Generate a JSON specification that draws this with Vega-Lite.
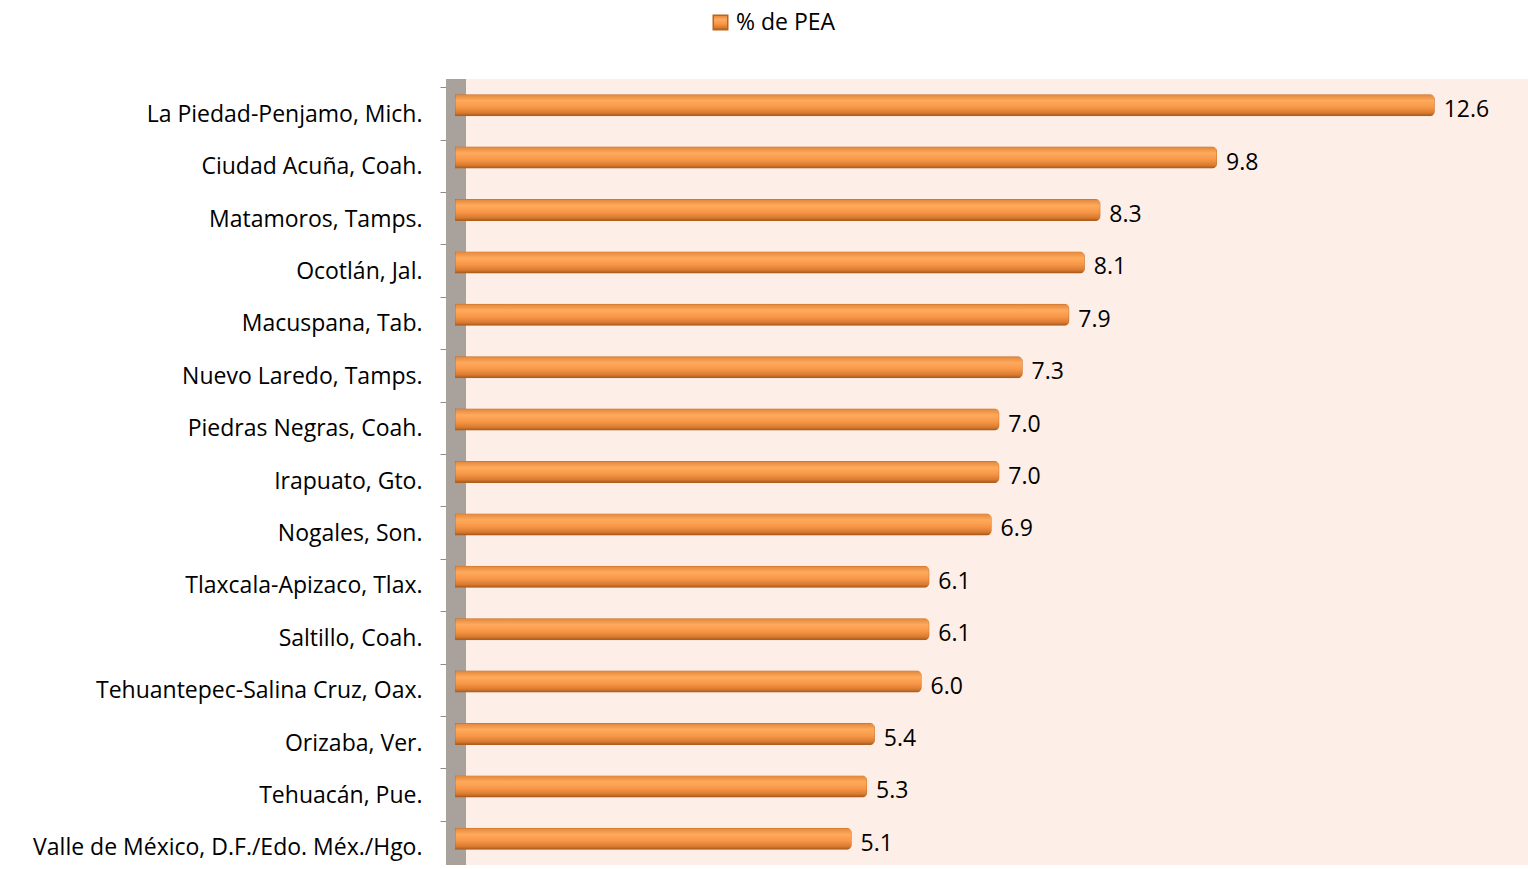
{
  "$schema": "https://vega.github.io/schema/vega-lite/v6.json",
  "width": 1073,
  "height": 786,
  "autosize": {"type": "none"},
  "padding": {"left": 455, "top": 79, "right": 0, "bottom": 4},
  "background": "white",
  "config": {
    "view": {"fill": "#FDEEE8", "stroke": null},
    "font": "Open Sans"
  },
  "data": {
    "values": [
      {"ciudad": "La Piedad-Penjamo, Mich.", "valor": 12.6, "serie": "% de PEA"},
      {"ciudad": "Ciudad Acuña, Coah.", "valor": 9.8, "serie": "% de PEA"},
      {"ciudad": "Matamoros, Tamps.", "valor": 8.3, "serie": "% de PEA"},
      {"ciudad": "Ocotlán, Jal.", "valor": 8.1, "serie": "% de PEA"},
      {"ciudad": "Macuspana, Tab.", "valor": 7.9, "serie": "% de PEA"},
      {"ciudad": "Nuevo Laredo, Tamps.", "valor": 7.3, "serie": "% de PEA"},
      {"ciudad": "Piedras Negras, Coah.", "valor": 7.0, "serie": "% de PEA"},
      {"ciudad": "Irapuato, Gto.", "valor": 7.0, "serie": "% de PEA"},
      {"ciudad": "Nogales, Son.", "valor": 6.9, "serie": "% de PEA"},
      {"ciudad": "Tlaxcala-Apizaco, Tlax.", "valor": 6.1, "serie": "% de PEA"},
      {"ciudad": "Saltillo, Coah.", "valor": 6.1, "serie": "% de PEA"},
      {"ciudad": "Tehuantepec-Salina Cruz, Oax.", "valor": 6.0, "serie": "% de PEA"},
      {"ciudad": "Orizaba, Ver.", "valor": 5.4, "serie": "% de PEA"},
      {"ciudad": "Tehuacán, Pue.", "valor": 5.3, "serie": "% de PEA"},
      {"ciudad": "Valle de México, D.F./Edo. Méx./Hgo.", "valor": 5.1, "serie": "% de PEA"}
    ]
  },
  "layer": [
    {
      "mark": {"type": "rule", "color": "#A8A19C", "strokeWidth": 19, "xOffset": 1},
      "encoding": {"x": {"datum": 0, "scale": {"domain": [0, 13.8]}, "axis": null}}
    },
    {
      "mark": {
        "type": "bar",
        "size": 22,
        "cornerRadiusEnd": 5,
        "strokeWidth": 0.8,
        "fill": {
          "gradient": "linear",
          "x1": 0, "y1": 0, "x2": 0, "y2": 1,
          "stops": [
            {"offset": 0, "color": "#E0853A"},
            {"offset": 0.3, "color": "#FFAA5C"},
            {"offset": 0.6, "color": "#F79646"},
            {"offset": 0.85, "color": "#D97A30"},
            {"offset": 1, "color": "#9E551C"}
          ]
        }
      },
      "encoding": {
        "y": {
          "field": "ciudad",
          "type": "nominal",
          "sort": null,
          "scale": {"paddingInner": 0, "paddingOuter": 0},
          "axis": {
            "title": null,
            "domain": false,
            "offset": 8,
            "tickSize": 7,
            "tickColor": "#8C8C8C",
            "tickOffset": -18,
            "labelOffset": 27,
            "labelPadding": 18,
            "labelFontSize": 23,
            "labelColor": "#000000",
            "labelFont": "Open Sans",
            "labelLimit": 500
          }
        },
        "x": {"field": "valor", "type": "quantitative", "scale": {"domain": [0, 13.8]}, "axis": null},
        "stroke": {
          "field": "serie",
          "type": "nominal",
          "scale": {"range": ["#B8651F"]},
          "legend": {
            "title": null,
            "orient": "none",
            "legendX": 254,
            "legendY": -68,
            "symbolType": "square",
            "symbolSize": 210,
            "symbolFillColor": "#F79646",
            "symbolStrokeWidth": 1.5,
            "labelFontSize": 23,
            "labelColor": "#000000",
            "labelFont": "Open Sans"
          }
        }
      }
    },
    {
      "mark": {"type": "text", "align": "left", "baseline": "middle", "dx": 9, "dy": 5, "fontSize": 23, "color": "#000000", "font": "Open Sans"},
      "encoding": {
        "y": {"field": "ciudad", "type": "nominal", "sort": null},
        "x": {"field": "valor", "type": "quantitative", "scale": {"domain": [0, 13.8]}},
        "text": {"field": "valor", "type": "quantitative", "format": ".1f"}
      }
    }
  ]
}
